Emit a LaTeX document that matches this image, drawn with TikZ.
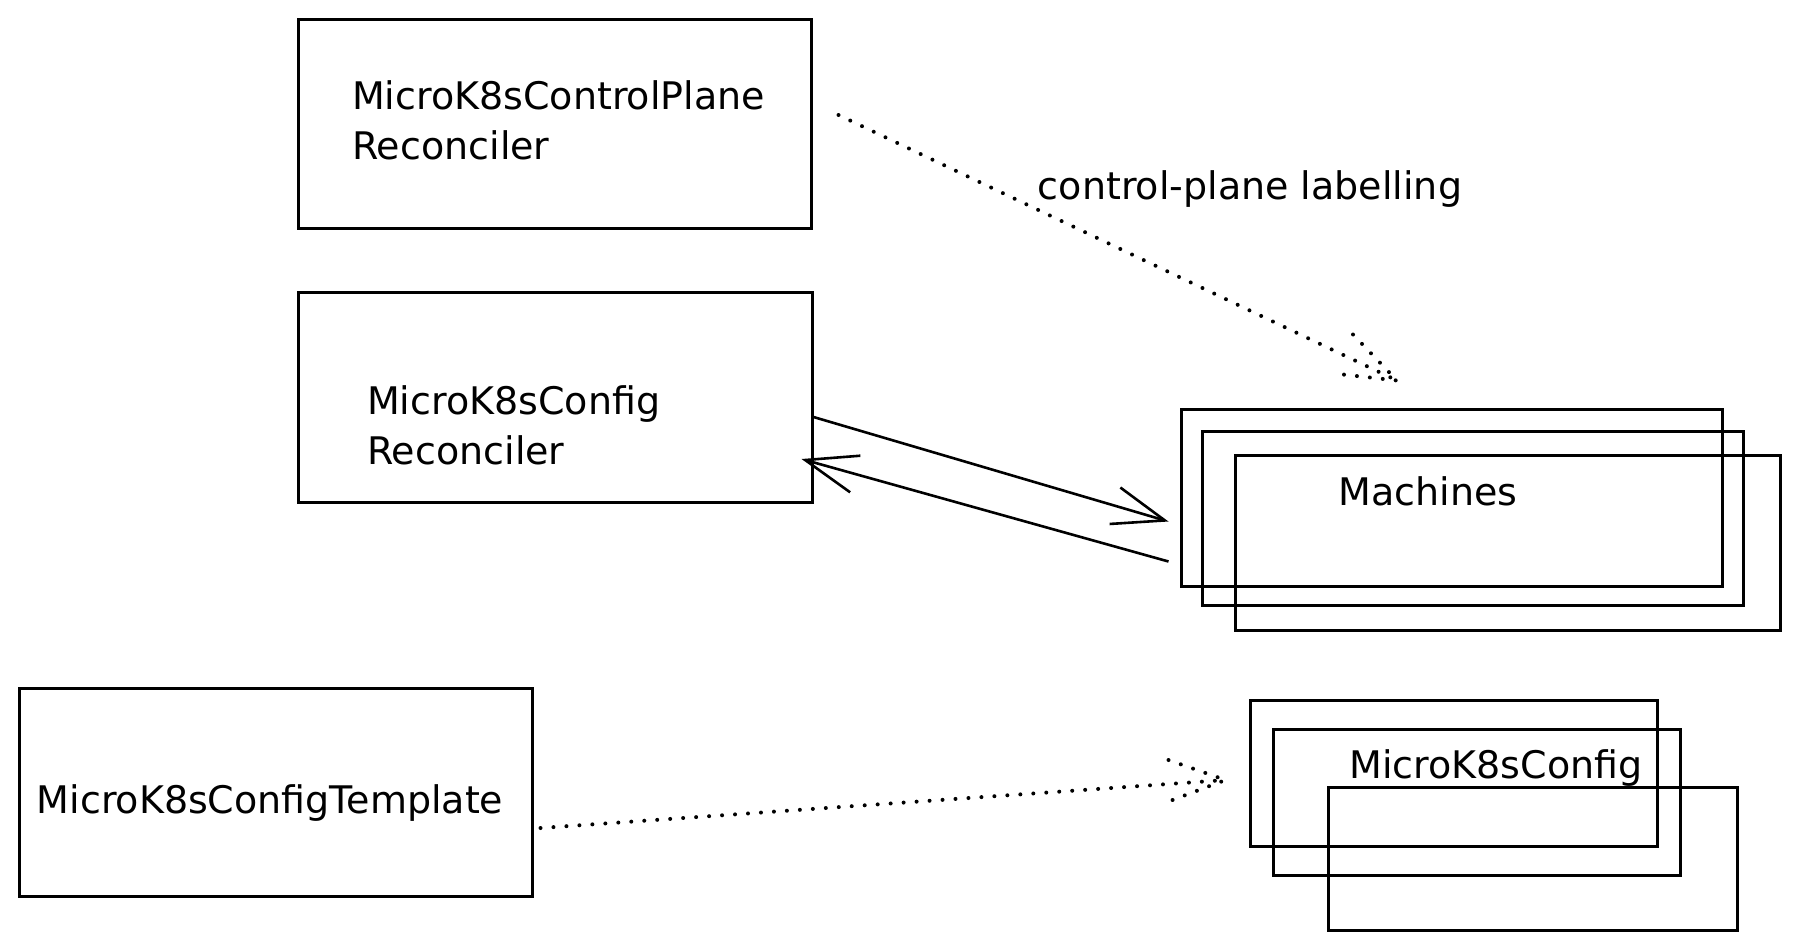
\documentclass[tikz,border=0pt]{standalone}
\usepackage{fontspec}
\setmainfont{DejaVu Sans}
\usetikzlibrary{arrows.meta}
\begin{document}
\begin{tikzpicture}[x=1pt,y=-1pt,
  rbox/.style={draw=black, line width=3pt, inner sep=0pt, rectangle},
  txt/.style={font=\fontsize{38}{50}\selectfont, inner sep=0pt, align=left},
  dotline/.style={line width=4pt, line cap=round, dash pattern=on 0pt off 13pt},
  arr/.style={line width=2.6pt, -{Straight Barb[length=52pt,width=38pt,line width=2.6pt]}}]
\useasboundingbox (0,0) rectangle (1798,951);
% left boxes
\node[rbox, minimum width=513pt, minimum height=209pt] (A) at (554.5,123.5) {};
\node[rbox, minimum width=514pt, minimum height=210pt] (B) at (555,397) {};
\node[rbox, minimum width=513pt, minimum height=208pt] (C) at (275.5,792) {};
\node[txt, anchor=west] (Atext) at (352,120) {MicroK8sControlPlane\\Reconciler};
\node[txt, anchor=west] (Btext) at (367,425) {MicroK8sConfig\\Reconciler};
\node[txt] (Ctext) at (270,803) {MicroK8sConfigTemplate};
% machines stack
\node[rbox, minimum width=541pt, minimum height=177pt] (m1) at (1451.5,497.5) {};
\node[rbox, minimum width=541pt, minimum height=174pt] (m2) at (1472.5,518) {};
\node[rbox, minimum width=545pt, minimum height=175pt] (m3) at (1507.5,542.5) {};
\node[txt] (mtext) at (1428,491) {Machines};
% config stack
\node[rbox, minimum width=407pt, minimum height=146pt] (c1) at (1453.5,773) {};
\node[rbox, minimum width=407pt, minimum height=146pt] (c2) at (1476.5,802) {};
\node[rbox, minimum width=409pt, minimum height=143pt] (c3) at (1532.5,858.5) {};
\node[txt] (ctext) at (1496,768) {MicroK8sConfig};
% label
\node[txt] (lab) at (1250,189) {control-plane labelling};
% dotted arrow A -> machines
\coordinate (tipA) at ([xshift=-54.5pt,yshift=27pt]m1.north);
\draw[dotline] ([xshift=26pt,yshift=8.5pt]A.east) -- (tipA);
\draw[dotline] (tipA) ++(-44,-46) -- (tipA) -- ++(-63,-7);
% dotted arrow template -> config
\coordinate (tipC) at ([xshift=-23pt,yshift=-7pt]c1.west);
\draw[dotline] ([xshift=7pt,yshift=-36pt]C.east) -- (tipC);
\draw[dotline] (tipC) ++(-57,-20) -- (tipC) -- ++(-53,20);
% solid arrows
\draw[arr] ([yshift=-20pt]B.east) -- ([xshift=-11pt,yshift=-24pt]m1.west);
\draw[arr] ([xshift=-11pt,yshift=-64pt]m1.west) -- ([xshift=-12pt,yshift=-62pt]B.east);
\end{tikzpicture}
\end{document}
